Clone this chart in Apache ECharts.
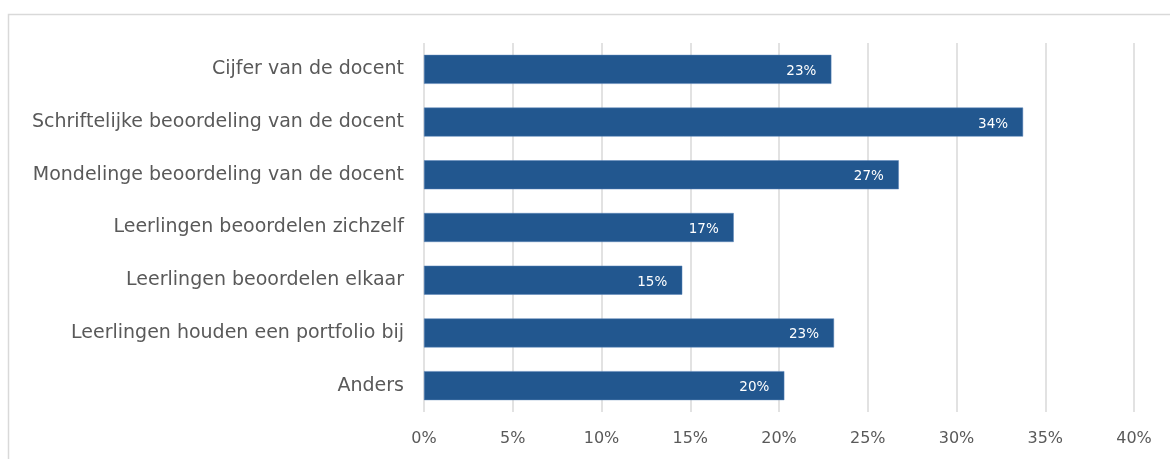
<!DOCTYPE html>
<html>
<head>
<meta charset="utf-8">
<script src="https://cdn.jsdelivr.net/npm/echarts@6/dist/echarts.min.js"></script>
<style>
html,body{margin:0;padding:0;background:#fff;}
#chart{width:1170px;height:459px;}
</style>
</head>
<body>
<div id="chart"></div>
<script>
const categories = [
  "Cijfer van de docent",
  "Schriftelijke beoordeling van de docent",
  "Mondelinge beoordeling van de docent",
  "Leerlingen beoordelen zichzelf",
  "Leerlingen beoordelen elkaar",
  "Leerlingen houden een portfolio bij",
  "Anders"
];
const values = [22.95, 33.75, 26.75, 17.45, 14.55, 23.1, 20.3];
const xTicks = [0, 5, 10, 15, 20, 25, 30, 35, 40];

const FONT = "DejaVu Sans";
const chart = echarts.init(document.getElementById('chart'), null, {renderer: 'canvas'});
chart.setOption({
  backgroundColor: '#ffffff',
  animation: false,
  graphic: [{
    type: 'rect',
    shape: {x: 8.5, y: 14.5, width: 1200, height: 500},
    style: {fill: 'none', stroke: '#d9d9d9', lineWidth: 1.5},
    silent: true, z: -1
  }],
  grid: {left: 424, right: 36, top: 43, bottom: 47, containLabel: false},
  xAxis: {
    type: 'value',
    min: xTicks[0],
    max: xTicks[xTicks.length - 1],
    interval: 5,
    axisLine: {show: false},
    axisTick: {show: false},
    splitLine: {show: true, lineStyle: {color: '#d9d9d9', width: 1.5}},
    axisLabel: {
      color: '#595959', fontFamily: FONT, fontSize: 16, margin: 19,
      formatter: v => v + '%'
    }
  },
  yAxis: {
    type: 'category',
    inverse: true,
    data: categories,
    axisLine: {show: false},
    axisTick: {show: false},
    axisLabel: {color: '#595959', fontFamily: FONT, fontSize: 19, margin: 20}
  },
  series: [{
    type: 'bar',
    data: values,
    barWidth: '55%',
    itemStyle: {color: '#22578f', borderColor: '#5b85b8', borderWidth: 0.5},
    label: {
      show: true,
      position: 'insideRight',
      distance: 15,
      color: '#ffffff',
      fontFamily: FONT,
      fontSize: 13.5,
      offset: [0, 2],
      formatter: p => Math.round(p.value) + '%'
    }
  }]
});
</script>
</body>
</html>
